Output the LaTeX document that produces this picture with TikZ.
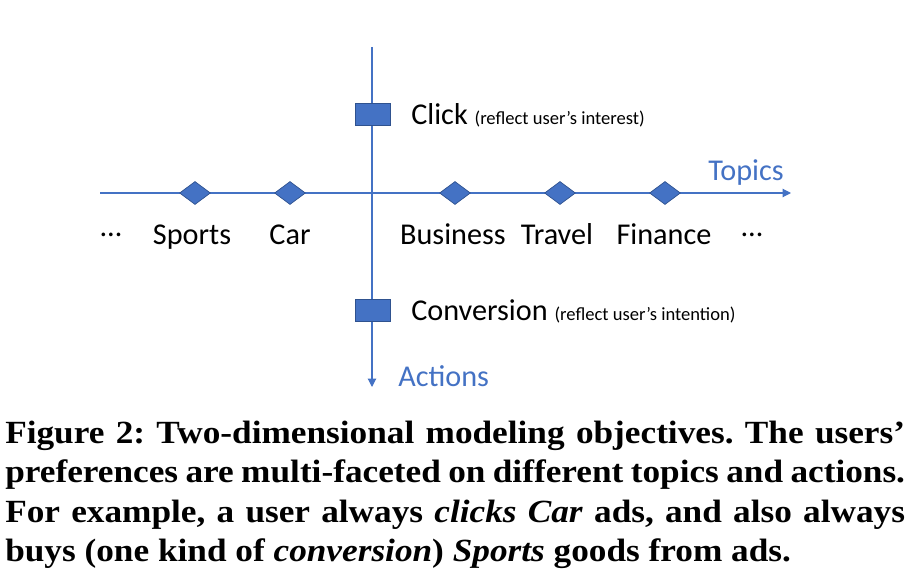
\documentclass[tikz,border=0pt]{standalone}
\usepackage{fontspec}
\setmainfont{Carlito}
\newfontfamily\capfont[FakeStretch=1.09]{Liberation Serif}
\usetikzlibrary{arrows.meta,shapes.geometric}
\definecolor{axisblue}{HTML}{4472C4}
\definecolor{edgeblue}{HTML}{2F528F}

\begin{document}
\begin{tikzpicture}[x=0.25mm,y=-0.25mm,
  axis/.style={draw=axisblue,line width=0.8pt,
    -{Triangle[length=6pt,width=6pt]}},
  topic/.style={diamond,fill=axisblue,draw=edgeblue,line width=0.5pt,
    minimum width=22pt,minimum height=16.4pt,inner sep=0pt},
  action/.style={rectangle,fill=axisblue,draw=edgeblue,line width=0.5pt,
    minimum width=24.9pt,minimum height=15.6pt,inner sep=0pt},
  word/.style={font=\fontsize{21.5}{24}\selectfont,inner sep=0pt,anchor=base},
  axlabel/.style={word,text=axisblue,anchor=base west},
  caption/.style={font=\capfont\bfseries\fontsize{23}{26}\selectfont
    \frenchspacing,inner sep=0pt,anchor=base west}]
\useasboundingbox (0,0) rectangle (918,575);
\newcommand\notefont{\fontsize{13.2}{15}\selectfont}
% axes
\coordinate (tstart) at (100,193);
\coordinate (tend) at (791,193);
\coordinate (astart) at (372,47);
\coordinate (aend) at (372,387);
\draw[axis] (tstart) -- (tend);
\draw[axis] (astart) -- (aend);
\node[axlabel] (topics) at (708,181) {Topics};
\node[axlabel] (actions) at (398,386) {Actions};
% topics
\node[topic] (sportsd) at (195,193) {};
\node[topic] (card) at (290,193) {};
\node[topic] (businessd) at (455,193) {};
\node[topic] (traveld) at (560,193) {};
\node[topic] (financed) at (665,193) {};
\node[word] (ldots) at (111,237) {…};
\node[word] (sports) at (192,245) {Sports};
\node[word] (car) at (290,245) {Car};
\node[word] (business) at (453,245) {Business};
\node[word] (travel) at (557,245) {Travel};
\node[word] (finance) at (664,245) {Finance};
\node[word] (rdots) at (752,237) {…};
% actions
\node[action] (clickb) at (373,114) {};
\node[action] (convb) at (373,310) {};
\node[word,anchor=base west] (click) at (411,125)
  {Click {\notefont (reflect user’s interest)}};
\node[word,anchor=base west] (conv) at (411,321)
  {Conversion {\notefont (reflect user’s intention)}};
% caption
\node[caption] (cap1) at (5,443) {\hbox to 640pt{Figure 2: Two-dimensional
  modeling objectives. The users’}};
\node[caption] (cap2) at (5,482) {\hbox to 640pt{preferences are multi-faceted
  on different topics and actions.}};
\node[caption] (cap3) at (5,522) {\hbox to 640pt{For example, a user always
  \textit{clicks Car} ads, and also always}};
\node[caption] (cap4) at (5,561) {buys (one kind of \textit{conversion})
  \textit{Sports} goods from ads.};
\end{tikzpicture}
\end{document}
